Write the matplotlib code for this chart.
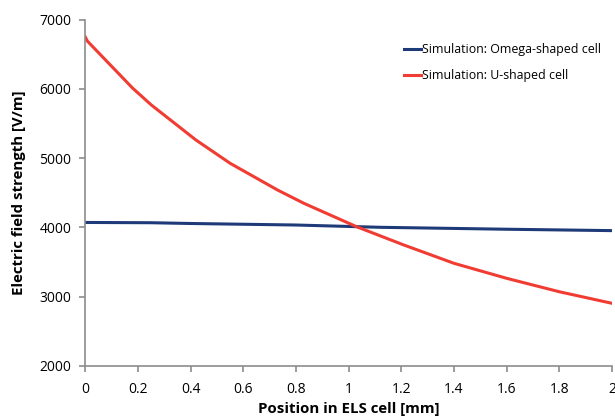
import matplotlib
matplotlib.use("Agg")
import matplotlib.pyplot as plt

# values
x_omega = [0.0, 0.25, 0.4, 0.8, 1.12, 1.6, 2.0]
e_omega = [4070, 4066, 4055, 4033, 4000, 3972, 3952]

x_u = [0.0, 0.008, 0.18, 0.25, 0.42, 0.55, 0.73, 0.83, 1.03, 1.21, 1.40, 1.60, 1.80, 2.0]
e_u = [6750, 6690, 6010, 5770, 5262, 4925, 4539, 4347, 4009, 3744, 3480, 3263, 3069, 2902]

xticks = [0, 0.2, 0.4, 0.6, 0.8, 1, 1.2, 1.4, 1.6, 1.8, 2]
yticks = [2000, 3000, 4000, 5000, 6000, 7000]

plt.rcParams['font.family'] = ['Open Sans', 'DejaVu Sans']

fig = plt.figure(figsize=(6.15, 4.18), dpi=100)
ax = fig.add_axes([0.1387, 0.1251, 0.8563, 0.8278])

ax.plot(x_omega, e_omega, color='#1f3a78', lw=2.2, label='Simulation: Omega-shaped cell')
ax.plot(x_u, e_u, color='#f03c32', lw=2.2, label='Simulation: U-shaped cell')

ax.set_xlim(0, 2)
ax.set_ylim(2000, 7000)
ax.set_xticks(xticks)
ax.set_xticklabels([f'{t:g}' for t in xticks])
ax.set_yticks(yticks)

for s in ['top', 'right']:
    ax.spines[s].set_visible(False)
for s in ['left', 'bottom']:
    ax.spines[s].set_color('#8c8c8c')
    ax.spines[s].set_linewidth(1.2)
ax.tick_params(colors='#8c8c8c', labelcolor='black', labelsize=10, length=4, width=1.2)
ax.tick_params(axis='x', pad=8)
ax.tick_params(axis='y', pad=6)

ax.set_xlabel('Position in ELS cell [mm]', fontsize=10.8, fontweight='bold', labelpad=3)
ax.set_ylabel('Electric field strength [V/m]', fontsize=10.8, fontweight='bold', labelpad=10)

ax.legend(loc='upper right', bbox_to_anchor=(1.0, 0.965), frameon=False, fontsize=8.9,
          handlelength=1.4, handletextpad=0.05, labelspacing=1.05)

fig.savefig('out.png', dpi=100)
